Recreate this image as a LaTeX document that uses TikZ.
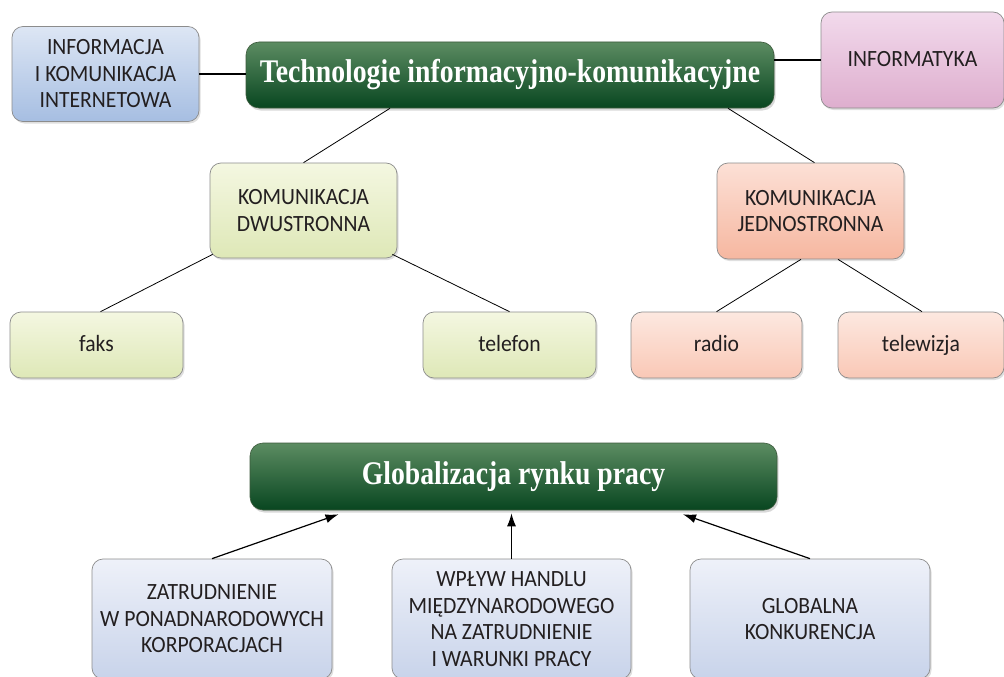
\documentclass[tikz,border=0pt]{standalone}
\usepackage{fontspec}
\setmainfont[FakeStretch=0.93]{Carlito}
\newfontfamily\titlefont[FakeStretch=0.84]{Liberation Serif}
\usetikzlibrary{arrows.meta,shadows,calc}
\definecolor{txt}{HTML}{231F20}
\definecolor{edge}{HTML}{8C8C8C}
\tikzset{
  box/.style={draw=edge, line width=0.7pt, rounded corners=11pt, align=center,
    text=txt, font=\fontsize{23.3}{26.5}\selectfont, inner sep=0pt,
    drop shadow={shadow xshift=1.5pt, shadow yshift=-2pt, opacity=0.25}},
  oneline/.style={text depth=3pt},
  bluebox/.style={box, top color={rgb,255:red,221;green,230;blue,244}, bottom color={rgb,255:red,166;green,190;blue,226}},
  pinkbox/.style={box, top color={rgb,255:red,242;green,218;blue,236}, bottom color={rgb,255:red,222;green,174;blue,206}},
  greenbox/.style={box, top color={rgb,255:red,244;green,247;blue,225}, bottom color={rgb,255:red,222;green,232;blue,183}},
  salmonbox/.style={box, top color={rgb,255:red,252;green,224;blue,214}, bottom color={rgb,255:red,246;green,183;blue,160}},
  salmonlight/.style={box, top color={rgb,255:red,253;green,232;blue,224}, bottom color={rgb,255:red,249;green,200;blue,182}},
  greybluebox/.style={box, top color={rgb,255:red,238;green,241;blue,249}, bottom color={rgb,255:red,200;green,211;blue,234}},
  titlebox/.style={draw={rgb,255:red,60;green,90;blue,60}, line width=0.6pt, rounded corners=13pt,
    top color={rgb,255:red,92;green,140;blue,98}, middle color={rgb,255:red,20;green,92;blue,46},
    bottom color={rgb,255:red,8;green,70;blue,32}, text=white, inner sep=0pt,
    font=\titlefont\bfseries\fontsize{33}{36}\selectfont,
    drop shadow={shadow xshift=1.5pt, shadow yshift=-2.5pt, opacity=0.3}},
  treeline/.style={draw=black, line width=0.8pt},
  joinline/.style={draw=black, line width=2pt},
  arrline/.style={draw=black, line width=1.2pt, -{Latex[length=13pt,width=9pt]}}
}
\begin{document}
\begin{tikzpicture}[x=1pt,y=-1pt]
\clip (0,0) rectangle (1004,677);
\fill[white] (0,0) rectangle (1004,677);

% top part
\node[bluebox, minimum width=187pt, minimum height=95pt] (info) at (105.5,74)
  {INFORMACJA\\I KOMUNIKACJA\\INTERNETOWA};
\node[titlebox, minimum width=528pt, minimum height=66pt] (tech) at (510,75)
  {Technologie informacyjno-komunikacyjne};
\node[pinkbox, oneline, minimum width=183pt, minimum height=96pt] (infm) at (912.5,60)
  {INFORMATYKA};

\node[greenbox, minimum width=187pt, minimum height=95pt] (dwu) at (303.5,210.5)
  {KOMUNIKACJA\\DWUSTRONNA};
\node[salmonbox, minimum width=187pt, minimum height=96pt] (jed) at (810.5,211)
  {KOMUNIKACJA\\JEDNOSTRONNA};

\node[greenbox, oneline, minimum width=173pt, minimum height=66pt] (faks) at (96.5,345) {faks};
\node[greenbox, oneline, minimum width=173pt, minimum height=66pt] (tel) at (509.5,345) {telefon};
\node[salmonlight, oneline, minimum width=171pt, minimum height=66pt] (radio) at (716.5,345) {radio};
\node[salmonlight, oneline, minimum width=166pt, minimum height=66pt] (tv) at (921,345) {telewizja};

\draw[joinline] (info.east) -- (info.east -| tech.west);
\draw[joinline] (infm.west) -- (infm.west -| tech.east);
\draw[treeline] ([xshift=-120pt]tech.south) -- (dwu.north);
\draw[treeline] ([xshift=218pt]tech.south) -- ([xshift=4pt]jed.north);
\draw[treeline] ([xshift=3pt,yshift=4pt]dwu.south west) -- ([xshift=4pt]faks.north);
\draw[treeline] ([xshift=-5pt,yshift=4pt]dwu.south east) -- (tel.north);
\draw[treeline] ([xshift=-9.5pt]jed.south) -- (radio.north);
\draw[treeline] ([xshift=27.5pt]jed.south) -- ([xshift=1pt]tv.north);

% bottom part
\node[titlebox, minimum width=527pt, minimum height=67pt] (glob) at (513.5,476.5)
  {Globalizacja rynku pracy};
\node[greybluebox, minimum width=240pt, minimum height=120pt] (zat) at (212,619)
  {ZATRUDNIENIE\\W PONADNARODOWYCH\\KORPORACJACH};
\node[greybluebox, minimum width=239pt, minimum height=120pt] (wpl) at (511.5,619)
  {WPŁYW HANDLU\\MIĘDZYNARODOWEGO\\NA ZATRUDNIENIE\\I WARUNKI PRACY};
\node[greybluebox, minimum width=240pt, minimum height=120pt] (glk) at (810,619)
  {GLOBALNA\\KONKURENCJA};

\draw[arrline] (zat.north) -- ([xshift=-175pt,yshift=-4pt]glob.south);
\draw[arrline] (wpl.north) -- ([yshift=-3pt]wpl.north |- glob.south);
\draw[arrline] (glk.north) -- ([xshift=169.5pt,yshift=-4pt]glob.south);
\end{tikzpicture}
\end{document}
